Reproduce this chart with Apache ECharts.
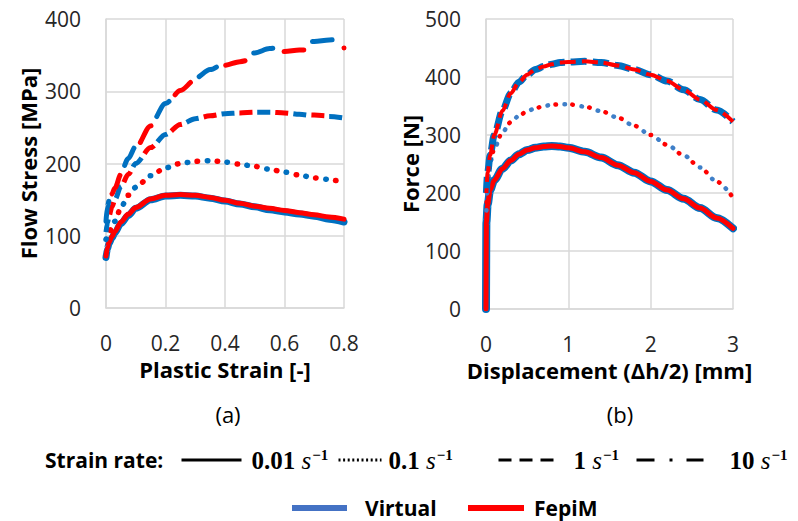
<!DOCTYPE html>
<html><head><meta charset="utf-8">
<script src="https://cdn.jsdelivr.net/npm/echarts@6/dist/echarts.min.js"></script>
<style>html,body{margin:0;padding:0;background:#fff}#c{width:798px;height:521px}</style>
</head><body><div id="c"></div>
<script>
// ---------- (a) Flow stress vs plastic strain ----------
const strainX = [0,0.005,0.01,0.02,0.03,0.05,0.075,0.1,0.15,0.2,0.25,0.3,0.35,0.4,0.45,0.5,0.55,0.6,0.65,0.7,0.75,0.8];
const stressVirtual001 = [70,82,89,97,104,117,128,138,150,155,156,155,152,148,144,140,136,133,130,127,123,119];
const stressFepim001   = [72,84,91,99,106,119,130,139,151,156,157,156,153,149,145,141,138,135,132,129,126,123];
const stressVirtual01  = [95,100,104,112,120,139,156,167,183,194,200,203,204,202,199,196,192,188,184,180,178,177];
const stressFepim01    = [95,100,104,112,120,139,156,167,183,194,200,203,204,202,199,196,192,188,184,180,177,175];
const stressVirtual1   = [105,118,127,140,150,168,185,200,222,240,254,262,266,269,270,271,271,270,268,266,265,263];
const stressFepim1     = [105,118,127,140,150,168,185,200,222,240,254,262,266,269,270,271,271,270,268,267,266,265];
const stressVirtual10  = [120,140,148,160,168,187,207,224,254,283,302,318,330,339,346,353,359,363,367,369,371,373];
const stressFepim10    = [118,138,146,158,166,185,205,222,252,281,301,316,328,336,341,345,350,355,357,358,359,360];

// ---------- (b) Force vs displacement ----------
const dispX = [0,0.005,0.02,0.05,0.1,0.2,0.3,0.4,0.5,0.6,0.7,0.8,0.9,1.0,1.2,1.4,1.6,1.8,2.0,2.2,2.4,2.6,2.8,3.0];
const forceVirtual001 = [0,150,180,205,222,242,256,267,274,278,280,281,280,278,271,261,248,235,220,205,190,174,157,139];
const forceFepim001   = [0,150,180,205,222,242,256,267,274,278,280,281,280,278,271,261,248,235,220,205,190,174,157,139];
const forceVirtual01  = [null,170,215,252,277,305,322,333,341,346,350,352,353,353,349,341,330,316,300,283,265,244,220,192];
const forceFepim01    = [null,170,215,252,277,305,322,333,341,346,350,352,353,353,349,341,330,316,300,283,265,244,220,192];
const forceVirtual1   = [null,200,235,265,300,342,372,391,404,413,418,422,425,426,427,425,420,413,404,393,378,361,343,323];
const forceFepim1     = [null,200,235,265,300,342,372,391,404,413,418,422,425,426,427,425,420,413,404,393,378,361,343,323];

const rateNames = ['0.01', '0.1', '1', '10'];
const modelNames = ['Virtual', 'FepiM'];

// ---------- styles ----------
const BLUE = '#0070C0', RED = '#FF0000';
const sans = "'Open Sans', 'Noto Sans', sans-serif";
const serif = "'Liberation Serif', 'DejaVu Serif', serif";

function curve(name, xs, ys, idx, color, width, type, offset, cap) {
  return {
    type: 'line', name: name, xAxisIndex: idx, yAxisIndex: idx,
    data: xs.map((x, i) => [x, ys[i]]),
    symbol: 'none', smooth: 0.3, smoothMonotone: 'x', silent: true, animation: false,
    lineStyle: { color: color, width: width, type: type, dashOffset: offset || 0, cap: cap || 'butt', join: 'round' }
  };
}

const dotA = [0.5, 19.5], dashA = [13, 23], ddA = [20, 40];
const dotB = [0.5, 16.5], dashB = [16, 6];

const series = [
  // (a)
  curve('Virtual', strainX, stressVirtual001, 0, BLUE, 7, 'solid', 0, 'round'),
  curve('FepiM',   strainX, stressFepim001,   0, RED, 5, 'solid', 0, 'round'),
  curve('Virtual', strainX, stressVirtual01,  0, BLUE, 5.5, dotA, 0, 'round'),
  curve('FepiM',   strainX, stressFepim01,    0, RED, 5.5, dotA, 10, 'round'),
  curve('Virtual', strainX, stressVirtual1,   0, BLUE, 5, dashA, 0, 'butt'),
  curve('FepiM',   strainX, stressFepim1,     0, RED, 5, dashA, 18, 'butt'),
  curve('Virtual', strainX, stressVirtual10,  0, BLUE, 5, ddA, 0, 'round'),
  curve('FepiM',   strainX, stressFepim10,    0, RED, 5, ddA, 30, 'round'),
  // (b)
  curve('Virtual', dispX, forceVirtual001, 1, BLUE, 8, 'solid', 0, 'round'),
  curve('FepiM',   dispX, forceFepim001,   1, RED, 5, 'solid', 0, 'round'),
  curve('Virtual', dispX, forceVirtual01,  1, '#3f7fc8', 4.5, dotB, 0, 'round'),
  curve('FepiM',   dispX, forceFepim01,    1, RED, 4.5, dotB, 8.5, 'round'),
  curve('Virtual', dispX, forceVirtual1,   1, BLUE, 7, dashB, 0, 'butt'),
  curve('FepiM',   dispX, forceFepim1,     1, RED, 4, dashB, 11, 'butt')
];

// legend-only series for strain-rate line styles
const legendTypes = ['solid', [2, 2.6], [13, 8], [18, 15, 3, 14]];
rateNames.forEach((r, i) => {
  series.push({ type: 'line', name: r, xAxisIndex: 0, yAxisIndex: 0, data: [], symbol: 'none',
    lineStyle: { color: '#000', width: 3, type: legendTypes[i] } });
});

const rich = {
  n: { fontFamily: serif, fontWeight: 'bold', fontSize: 25, color: '#000', lineHeight: 26, verticalAlign: 'middle' },
  s: { fontFamily: serif, fontStyle: 'italic', fontSize: 25, color: '#000', lineHeight: 26, verticalAlign: 'middle' },
  p: { fontFamily: serif, fontWeight: 'bold', fontSize: 15, color: '#000', lineHeight: 26, verticalAlign: 'top', padding: [0, 0, 0, 1] }
};
const rateLegendPos = [[180, 60, 5], [337, 43, 2], [497, 56, 14], [635, 67, 21]];
const legends = rateNames.map((r, i) => ({
  data: [r], left: rateLegendPos[i][0], top: 447, padding: 0,
  itemWidth: rateLegendPos[i][1], itemHeight: 14, selectedMode: false,
  lineStyle: { width: 3 },
  itemStyle: { color: 'rgba(0,0,0,0)', borderWidth: 0, opacity: 0 },
  formatter: name => '{n|' + name + ' }{s|s}{p|\u22121}',
  textStyle: { rich: rich, padding: [0, 0, 0, rateLegendPos[i][2]] }
}));
const modelLegendPos = [[292, 55, 13, '#4472C4'], [468, 56, 5, '#FF0000']];
modelNames.forEach((m, i) => {
  legends.push({
    data: [{ name: m, icon: 'rect', itemStyle: { color: modelLegendPos[i][3] } }],
    left: modelLegendPos[i][0], top: 496, padding: 0,
    itemWidth: modelLegendPos[i][1], itemHeight: 6, selectedMode: false,
    textStyle: { fontFamily: sans, fontWeight: 'bold', fontSize: 21, color: '#000', lineHeight: 24,
      padding: [0, 0, 0, modelLegendPos[i][2]] }
  });
});

const gridLine = { lineStyle: { color: '#d9d9d9', width: 1.5 } };
const tickLabel = { fontFamily: sans, fontSize: 21, color: '#262626' };
const nameStyle = { fontFamily: sans, fontSize: 22, fontWeight: 'bold', color: '#000' };

function xAxis(idx, max, interval, name) {
  return { type: 'value', gridIndex: idx, min: 0, max: max, interval: interval,
    name: name, nameLocation: 'middle', nameGap: 47, nameTextStyle: nameStyle,
    axisLine: { show: true, lineStyle: { color: '#d9d9d9', width: 1.5 } }, axisTick: { show: false },
    splitLine: Object.assign({ show: true }, gridLine),
    axisLabel: Object.assign({ margin: 24 }, tickLabel) };
}
function yAxis(idx, max, name, gap) {
  return { type: 'value', gridIndex: idx, min: 0, max: max, interval: 100,
    name: name, nameLocation: 'middle', nameGap: gap, nameTextStyle: nameStyle,
    axisLine: { show: true, lineStyle: { color: '#d9d9d9', width: 1.5 } }, axisTick: { show: false },
    splitLine: Object.assign({ show: true }, gridLine),
    axisLabel: Object.assign({ margin: 25 }, tickLabel) };
}

const chart = echarts.init(document.getElementById('c'), null, { renderer: 'svg' });
chart.setOption({
  animation: false,
  backgroundColor: '#fff',
  grid: [
    { left: 106, top: 19, width: 238, height: 289 },
    { left: 486, top: 19, width: 247, height: 290 }
  ],
  xAxis: [xAxis(0, 0.8, 0.2, 'Plastic Strain [-]'), xAxis(1, 3, 1, 'Displacement (\u0394h/2) [mm]')],
  yAxis: [yAxis(0, 400, 'Flow Stress [MPa]', 67), yAxis(1, 500, 'Force [N]', 65)],
  legend: legends,
  graphic: [
    { type: 'text', x: 228, y: 414, style: { text: '(a)', font: "22px 'Open Sans'", fill: '#000', align: 'center', verticalAlign: 'middle' } },
    { type: 'text', x: 620, y: 414, style: { text: '(b)', font: "22px 'Open Sans'", fill: '#000', align: 'center', verticalAlign: 'middle' } },
    { type: 'text', x: 45, y: 460, style: { text: 'Strain rate:', font: "bold 21px 'Open Sans'", fill: '#000', align: 'left', verticalAlign: 'middle' } }
  ],
  series: series
});
</script>
</body></html>
